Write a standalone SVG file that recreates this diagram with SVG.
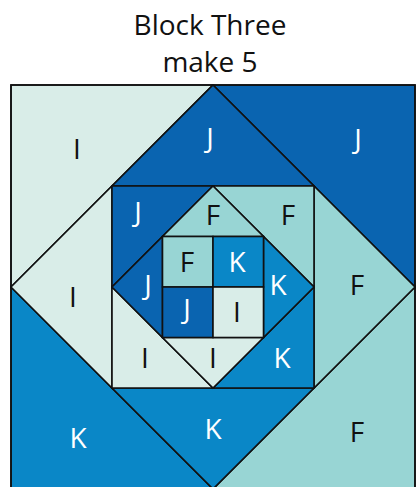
<svg xmlns="http://www.w3.org/2000/svg" width="417" height="487" viewBox="0 0 417 487">
<style>
.I{fill:#d9ede8}.J{fill:#0a64b0}.K{fill:#0a87c7}.F{fill:#98d5d4}
.p polygon,.p rect{stroke:#111;stroke-width:1.6;stroke-linejoin:miter}
text{font-family:"Open Sans","Noto Sans","Liberation Sans",sans-serif;font-size:28px;text-anchor:middle}
.w{fill:#fff}.b{fill:#111}
.title{font-size:28px;fill:#111}
</style>
<rect width="417" height="487" fill="#fff"/>
<g id="title">
<text class="title" x="210" y="34.5">Block Three</text>
<text class="title" x="210" y="72">make 5</text>
</g>
<g id="block" class="p">
<g id="outer-corners">
<polygon class="I" points="11,85 213,85 11,287"/>
<polygon class="J" points="213,85 415,85 415,287"/>
<polygon class="F" points="415,287 415,489 213,489"/>
<polygon class="K" points="11,287 11,489 213,489"/>
</g>
<g id="outer-diamond">
<polygon class="J" points="213,85 314,186 112,186"/>
<polygon class="F" points="314,186 415,287 314,388"/>
<polygon class="K" points="314,388 213,489 112,388"/>
<polygon class="I" points="112,186 112,388 11,287"/>
</g>
<g id="middle-corners">
<polygon class="J" points="112,186 213,186 112,287"/>
<polygon class="F" points="213,186 314,186 314,287"/>
<polygon class="K" points="314,287 314,388 213,388"/>
<polygon class="I" points="112,287 112,388 213,388"/>
</g>
<g id="inner-diamond">
<polygon class="F" points="213,186 263.5,236.5 162.5,236.5"/>
<polygon class="K" points="263.5,236.5 314,287 263.5,337.5"/>
<polygon class="I" points="263.5,337.5 213,388 162.5,337.5"/>
<polygon class="J" points="162.5,236.5 162.5,337.5 112,287"/>
</g>
<g id="center">
<rect class="F" x="162.5" y="236.5" width="50.5" height="50.5"/>
<rect class="K" x="213" y="236.5" width="50.5" height="50.5"/>
<rect class="J" x="162.5" y="287" width="50.5" height="50.5"/>
<rect class="I" x="213" y="287" width="50.5" height="50.5"/>
</g>
<rect x="11" y="85" width="404" height="404" fill="none" stroke="#555" stroke-width="2"/>
</g>
<g id="labels">
<text class="b" x="77" y="159">I</text>
<text class="w" x="210" y="148">J</text>
<text class="w" x="358" y="149">J</text>
<text class="b" x="73" y="307">I</text>
<text class="b" x="357" y="295">F</text>
<text class="w" x="213" y="439">K</text>
<text class="w" x="78" y="448">K</text>
<text class="b" x="357" y="442">F</text>
<text class="w" x="138" y="222">J</text>
<text class="b" x="213" y="225">F</text>
<text class="b" x="288" y="225">F</text>
<text class="w" x="148" y="295">J</text>
<text class="w" x="278" y="295">K</text>
<text class="b" x="187" y="272">F</text>
<text class="w" x="237" y="272">K</text>
<text class="w" x="187" y="319">J</text>
<text class="b" x="237" y="322">I</text>
<text class="b" x="145" y="368">I</text>
<text class="b" x="213" y="368">I</text>
<text class="w" x="282" y="368">K</text>
</g>
</svg>
